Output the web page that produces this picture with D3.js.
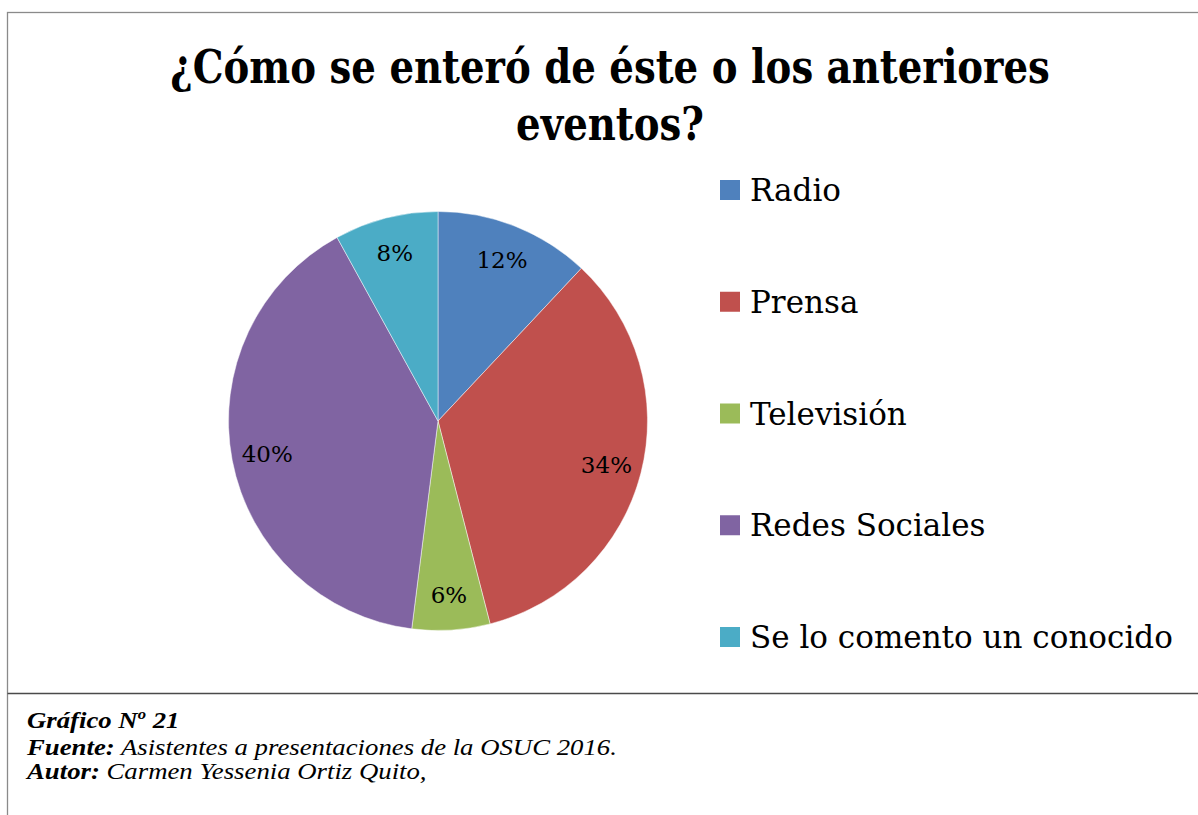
<!DOCTYPE html>
<html>
<head>
<meta charset="utf-8">
<script src="https://cdn.jsdelivr.net/npm/d3@7"></script>
<style>
  html, body { margin: 0; padding: 0; background: #fff; }
  svg { display: block; }
</style>
</head>
<body>
<svg id="chart" width="1198" height="815"></svg>
<script>
// Survey answers: how attendees heard about the event(s)
const categories = ["Radio", "Prensa", "Televisión", "Redes Sociales", "Se lo comento un conocido"];
const percentages = [12, 34, 6, 40, 8];
const sliceColors = ["#4F81BD", "#C0504D", "#9BBB59", "#8064A2", "#4BACC6"];
const titleLines = ["¿Cómo se enteró de éste o los anteriores", "eventos?"];
const footerLines = [
  [{ t: "Gráfico N", b: true }, { t: "o", b: true, sup: true }, { t: " 21", b: true }],
  [{ t: "Fuente:", b: true }, { t: " Asistentes a presentaciones de la OSUC 2016.", b: false }],
  [{ t: "Autor:", b: true }, { t: " Carmen Yessenia Ortiz Quito,", b: false }]
];

const svg = d3.select("#chart");
const W = 1198, H = 815;
const serif = "'DejaVu Serif', serif";

// Outer frame and the divider above the caption
svg.append("rect").attr("x", 7.5).attr("y", 12.5).attr("width", W).attr("height", H)
  .attr("fill", "none").attr("stroke", "#8a8a8a").attr("stroke-width", 1.3);
svg.append("line").attr("x1", 7.5).attr("x2", W).attr("y1", 693.5).attr("y2", 693.5)
  .attr("stroke", "#4a4a4a").attr("stroke-width", 1.6);

// Title, narrowed horizontally so the first line spans the same width as the heading block
const titleG = svg.append("g");
const title = titleG.append("text").attr("text-anchor", "middle")
  .attr("font-family", serif).attr("font-weight", "bold").attr("font-size", 47)
  .attr("fill", "#000");
title.selectAll("tspan").data(titleLines).join("tspan")
  .attr("x", 0).attr("y", (d, i) => 83 + i * 57).text(d => d);
const firstLineWidth = title.select("tspan").node().getComputedTextLength();
const kTitle = 880 / firstLineWidth;
titleG.attr("transform", `translate(610,0) scale(${kTitle},1)`);

// Pie
const cx = 438, cy = 421, R = 209.5;
const pie = d3.pie().sort(null).value(d => d);
const arcs = pie(percentages);
const arc = d3.arc().innerRadius(0).outerRadius(R);
const labelArc = d3.arc().innerRadius(R * 0.83).outerRadius(R * 0.83);
const color = d3.scaleOrdinal().domain(categories).range(sliceColors);

const g = svg.append("g").attr("transform", `translate(${cx},${cy})`);
g.selectAll("path").data(arcs).join("path")
  .attr("d", arc)
  .attr("fill", (d, i) => color(categories[i]))
  .attr("stroke", "#ffffff").attr("stroke-opacity", 0.6).attr("stroke-width", 0.8);

g.selectAll("text.pct").data(arcs).join("text")
  .attr("class", "pct")
  .attr("transform", d => `translate(${labelArc.centroid(d)})`)
  .attr("text-anchor", "middle").attr("dy", "0.36em")
  .attr("font-family", serif).attr("font-size", 23).attr("fill", "#000")
  .text(d => d.data + "%");

// Legend
const legendY = d3.scalePoint().domain(categories).range([190, 637]);
const lg = svg.append("g");
const items = lg.selectAll("g").data(categories).join("g")
  .attr("transform", d => `translate(720,${legendY(d)})`);
items.append("rect").attr("x", 0).attr("y", -10).attr("width", 20).attr("height", 20)
  .attr("fill", d => color(d));
items.append("text").attr("x", 30).attr("dy", "0.36em")
  .attr("font-family", serif).attr("font-size", 31).attr("fill", "#000")
  .text(d => d);

// Caption below the divider
const cap = svg.append("g")
  .attr("transform", "translate(27,0) scale(1.115,1)")
  .attr("font-family", "'Liberation Serif', 'Times New Roman', serif")
  .attr("font-style", "italic").attr("font-size", 24).attr("fill", "#000");
footerLines.forEach((parts, i) => {
  const t = cap.append("text").attr("x", 0).attr("y", [728, 755, 779][i]);
  parts.forEach(p => {
    const s = t.append("tspan").attr("font-weight", p.b ? "bold" : "normal").text(p.t);
    if (p.sup) s.attr("font-size", 15).attr("dy", -9);
    else if (i === 0 && p.t === " 21") s.attr("dy", 9);
  });
});
</script>
</body>
</html>
